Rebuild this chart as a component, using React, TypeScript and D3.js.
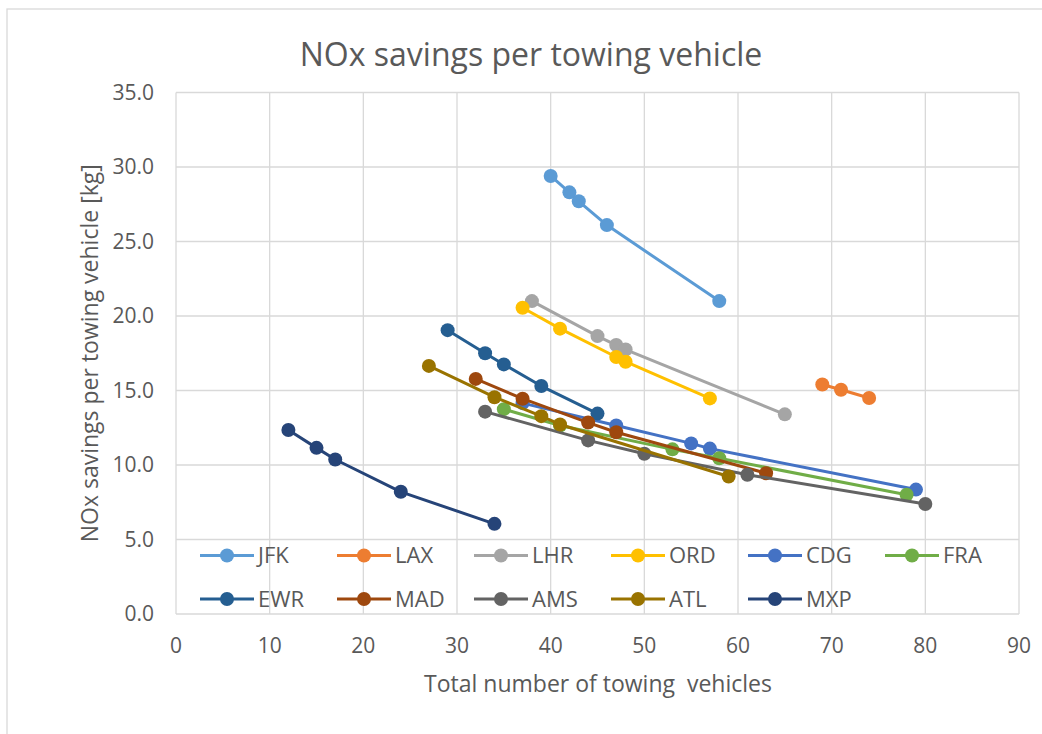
import React from "react";
import * as d3 from "d3";

const seriesNames = ["JFK", "LAX", "LHR", "ORD", "CDG", "FRA", "EWR", "MAD", "AMS", "ATL", "MXP"];
const seriesColors = ["#5B9BD5", "#ED7D31", "#A5A5A5", "#FFC000", "#4472C4", "#70AD47", "#255E91", "#9E480E", "#636363", "#997300", "#264478"];

const jfkX = [40, 42, 43, 46, 58];
const jfkY = [29.4, 28.3, 27.7, 26.1, 21.0];
const laxX = [69, 71, 74];
const laxY = [15.4, 15.05, 14.5];
const lhrX = [38, 45, 47, 48, 65];
const lhrY = [21.0, 18.65, 18.05, 17.75, 13.4];
const ordX = [37, 41, 47, 48, 57];
const ordY = [20.55, 19.15, 17.25, 16.93, 14.47];
const cdgX = [37, 47, 55, 57, 79];
const cdgY = [14.15, 12.65, 11.45, 11.1, 8.35];
const fraX = [35, 41, 53, 58, 78];
const fraY = [13.75, 12.65, 11.05, 10.45, 8.0];
const ewrX = [29, 33, 35, 39, 45];
const ewrY = [19.05, 17.5, 16.75, 15.3, 13.45];
const madX = [32, 37, 44, 47, 63];
const madY = [15.78, 14.45, 12.85, 12.2, 9.45];
const amsX = [33, 44, 50, 61, 80];
const amsY = [13.58, 11.65, 10.76, 9.35, 7.38];
const atlX = [27, 34, 39, 41, 59];
const atlY = [16.65, 14.55, 13.28, 12.72, 9.23];
const mxpX = [12, 15, 17, 24, 34];
const mxpY = [12.35, 11.15, 10.37, 8.2, 6.05];

const xTicks = [0, 10, 20, 30, 40, 50, 60, 70, 80, 90];
const yTicks = [0, 5, 10, 15, 20, 25, 30, 35];

const title = "NOx savings per towing vehicle";
const xTitle = "Total number of towing  vehicles";
const yTitle = "NOx savings per towing vehicle [kg]";

const allX = [jfkX, laxX, lhrX, ordX, cdgX, fraX, ewrX, madX, amsX, atlX, mxpX];
const allY = [jfkY, laxY, lhrY, ordY, cdgY, fraY, ewrY, madY, amsY, atlY, mxpY];

export default function App() {
  const W = 1042, H = 734;
  const x = d3.scaleLinear().domain([0, 90]).range([176, 1019]);
  const y = d3.scaleLinear().domain([0, 35]).range([614, 92.5]);
  const font = "'Open Sans', sans-serif";
  const textColor = "#595959";
  const grid = "#d9d9d9";
  const line = d3.line<[number, number]>().x(d => x(d[0])).y(d => y(d[1]));

  const series = seriesNames.map((name, i) => ({
    name,
    color: seriesColors[i],
    pts: allX[i].map((v, j) => [v, allY[i][j]] as [number, number]),
  }));

  const legendCols = 6;
  const legendX0 = 200;
  const legendDX = 137;
  const legendY = [555.5, 599];

  return (
    <svg width={W} height={H} style={{ position: "absolute", left: 0, top: 0, background: "#fff" }} fontFamily={font}>
      <rect x={0} y={0} width={W} height={H} fill="#fff" />
      <rect x={7} y={9} width={1200} height={900} fill="none" stroke={grid} strokeWidth={1.3} />
      <text x={531} y={66} textAnchor="middle" fontSize={32} fill={textColor}>{title}</text>
      {xTicks.map(t => (
        <line key={"vx" + t} x1={x(t)} x2={x(t)} y1={y(35)} y2={y(0)} stroke={grid} strokeWidth={1.3} />
      ))}
      {yTicks.map(t => (
        <line key={"hy" + t} x1={x(0)} x2={x(90)} y1={y(t)} y2={y(t)} stroke={grid} strokeWidth={1.3} />
      ))}
      {yTicks.map(t => (
        <text key={"yt" + t} x={154} y={y(t)} dy="0.35em" textAnchor="end" fontSize={21} fill={textColor}>{t.toFixed(1)}</text>
      ))}
      {xTicks.map(t => (
        <text key={"xt" + t} x={x(t)} y={653} textAnchor="middle" fontSize={21} fill={textColor}>{t}</text>
      ))}
      <text x={598} y={692} textAnchor="middle" fontSize={23} fill={textColor} style={{ whiteSpace: "pre" }}>{xTitle}</text>
      <text transform={`translate(98,${(y(0) + y(35)) / 2}) rotate(-90)`} textAnchor="middle" fontSize={23} fill={textColor}>{yTitle}</text>
      {series.map(s => (
        <g key={s.name}>
          <path d={line(s.pts) || ""} fill="none" stroke={s.color} strokeWidth={3} strokeLinejoin="round" />
          {s.pts.map((p, j) => (
            <circle key={j} cx={x(p[0])} cy={y(p[1])} r={7} fill={s.color} />
          ))}
        </g>
      ))}
      {series.map((s, i) => {
        const col = i % legendCols;
        const row = Math.floor(i / legendCols);
        const lx = legendX0 + col * legendDX;
        const ly = legendY[row];
        return (
          <g key={"lg" + s.name}>
            <line x1={lx} x2={lx + 54} y1={ly} y2={ly} stroke={s.color} strokeWidth={3} />
            <circle cx={lx + 27} cy={ly} r={7} fill={s.color} />
            <text x={lx + 58} y={ly} dy="0.35em" fontSize={22} fill={textColor}>{s.name}</text>
          </g>
        );
      })}
    </svg>
  );
}
